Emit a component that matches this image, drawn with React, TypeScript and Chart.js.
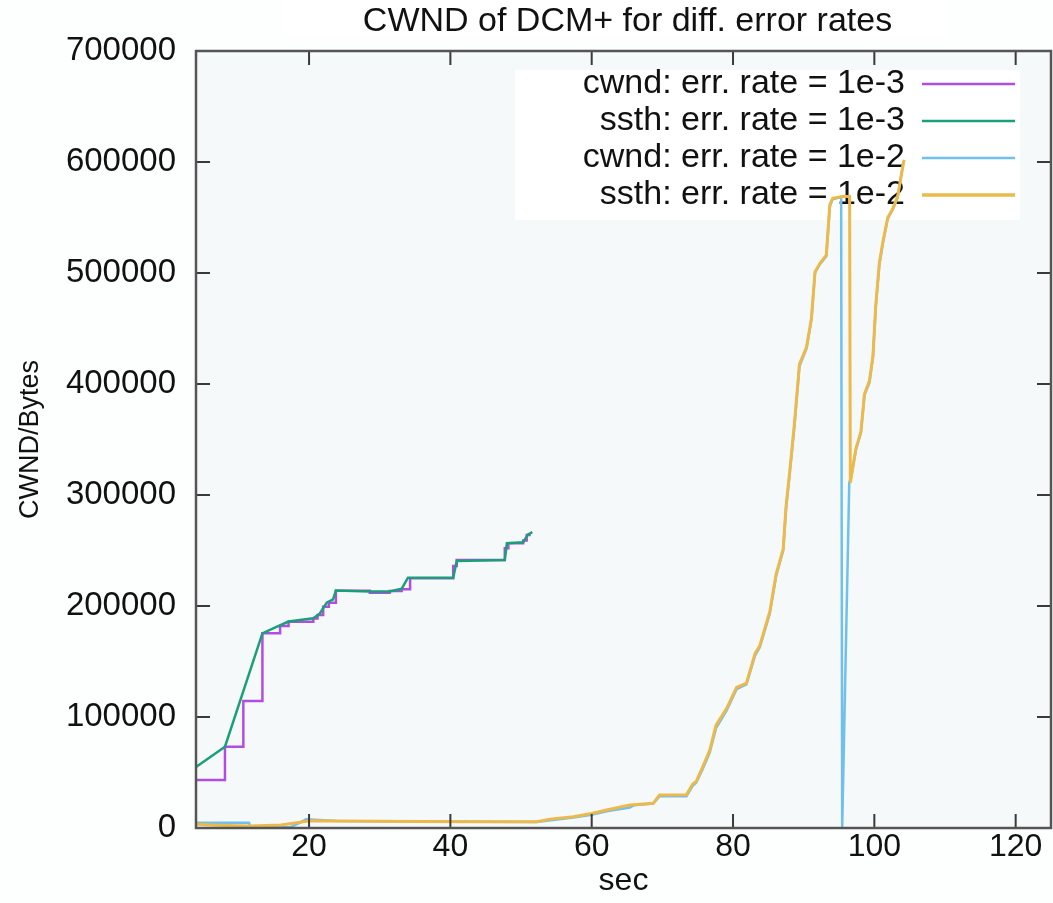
import React, { useEffect, useRef } from "react";
import { Chart, registerables } from "chart.js";

Chart.register(...registerables);

const FONT = "'Liberation Sans', Arial, Helvetica, sans-serif";

const TITLE = "CWND of DCM+ for diff. error rates";
const X_LABEL = "sec";
const Y_LABEL = "CWND/Bytes";
const X_TICKS = [20, 40, 60, 80, 100, 120];
const Y_TICKS = [0, 100000, 200000, 300000, 400000, 500000, 600000, 700000];

const SERIES_LABELS = [
  "cwnd: err. rate = 1e-3",
  "ssth: err. rate = 1e-3",
  "cwnd: err. rate = 1e-2",
  "ssth: err. rate = 1e-2",
];
const SERIES_COLORS = ["#b04ee2", "#1a9f78", "#6fc0ec", "#edb94a"];

// cwnd, err. rate 1e-3 (step function)
const cwnd3X = [4, 8.1, 10.7, 13.4, 15.9, 17.1, 20.6, 21.2, 22.0, 22.8, 23.8, 28.6, 31.4, 33.1, 34.3, 40.4, 40.9, 47.7, 48.2, 50.3, 50.8, 51.2];
const cwnd3Y = [43200, 73200, 114400, 175400, 182000, 185800, 188800, 192000, 199300, 203000, 213800, 212000, 213500, 215000, 224900, 236000, 241400, 252000, 256500, 259000, 264000, 265500];

// ssth, err. rate 1e-3
const ssth3X = [4, 8.1, 13.4, 15.0, 17.1, 20.6, 21.5, 22.5, 23.4, 23.8, 28.6, 31.4, 33.1, 34.0, 40.4, 40.9, 47.7, 48.0, 50.3, 51.0, 51.6];
const ssth3Y = [55000, 73200, 175400, 180000, 186000, 189000, 193000, 203000, 206000, 214000, 213000, 213000, 215500, 225500, 225500, 240500, 241500, 256500, 257500, 264500, 266500];

// cwnd, err. rate 1e-2
const cwnd2X = [4, 11.5, 11.7, 17.3, 18.8, 19.6, 23.9, 35, 45, 52.2, 54.5, 57.4, 60, 62.1, 65.4, 66, 68.7, 69.6, 73.4, 74.3, 74.8, 75.7, 76.7, 77.6, 79.1, 80.5, 81.9, 83.1, 83.8, 85.2, 86.1, 87.1, 87.5, 88.0, 88.7, 89.4, 90.4, 91.1, 91.6, 92.3, 93.2, 93.7, 94.1, 95.3, 95.45, 96.45, 96.7, 97.4, 98.1, 98.6, 99.3, 99.8, 100.2, 100.7, 101.2, 101.9, 102.6, 103.3, 104.1];
const cwnd2Y = [4800, 4800, 600, 600, 5000, 7800, 6300, 5800, 5600, 5400, 7200, 9500, 12000, 15000, 18500, 20500, 22000, 28500, 28500, 38000, 41000, 53000, 68000, 90000, 106000, 125000, 129500, 155000, 163000, 193000, 227000, 250000, 288000, 318000, 363000, 416000, 432000, 458000, 500000, 508000, 515000, 560000, 566500, 568500, 0, 311000, 316000, 341000, 356000, 390000, 401000, 424000, 469000, 507000, 527000, 549000, 557000, 568000, 600000];

// ssth, err. rate 1e-2
const ssth2X = [4, 7, 11.6, 16, 18.7, 20.1, 23.9, 35, 45, 52.2, 54.1, 57.4, 60, 62.1, 65.4, 68.7, 69.6, 73.4, 74.3, 74.8, 75.7, 76.7, 77.6, 79.1, 80.5, 81.9, 83.1, 83.8, 85.2, 86.1, 87.1, 87.5, 88.0, 88.7, 89.4, 90.4, 91.1, 91.6, 92.3, 93.2, 93.7, 94.1, 95.5, 96.5, 96.6, 97.4, 98.1, 98.6, 99.3, 99.8, 100.2, 100.7, 101.2, 101.9, 102.6, 103.3, 104.2];
const ssth2Y = [3300, 2500, 1800, 2800, 5100, 6600, 6300, 5800, 5600, 5700, 8000, 10200, 13000, 16200, 20700, 22200, 29700, 30000, 39700, 42000, 54800, 70000, 92700, 107800, 126700, 130500, 157000, 164500, 194800, 228800, 251500, 289300, 319600, 365000, 418000, 433000, 459500, 501000, 508700, 516000, 561600, 567300, 569000, 569000, 311000, 342000, 357000, 391000, 402800, 425000, 470800, 508700, 527600, 550000, 557800, 569000, 602000];

const pts = (xs: number[], ys: number[]) => xs.map((x, i) => ({ x, y: ys[i] }));

const gnuPlugin = {
  id: "gnuFrame",
  beforeDraw(chart: any) {
    const { ctx, chartArea: a, width, height } = chart;
    ctx.save();
    ctx.fillStyle = "#fdfefe";
    ctx.fillRect(0, 0, width, height);
    ctx.fillStyle = "#ffffff";
    ctx.fillRect(282, 0, 666, 38);
    ctx.fillStyle = "#f6f9fa";
    ctx.fillRect(a.left, a.top, a.right - a.left, a.bottom - a.top);
    // title, centred over the plot area
    ctx.fillStyle = "#111111";
    ctx.font = `34px ${FONT}`;
    ctx.textAlign = "center";
    ctx.textBaseline = "middle";
    ctx.fillText(TITLE, (a.left + a.right) / 2 + 4, 22);
    ctx.restore();
  },
  beforeDatasetsDraw(chart: any) {
    const { ctx } = chart;
    ctx.save();
    ctx.fillStyle = "#ffffff";
    ctx.fillRect(515, 70, 505, 150);
    const rows = [84, 121, 158, 195];
    ctx.font = `34px ${FONT}`;
    ctx.textAlign = "right";
    ctx.textBaseline = "middle";
    SERIES_LABELS.forEach((label, i) => {
      ctx.fillStyle = "#111111";
      ctx.fillText(label, 905, rows[i]);
      ctx.strokeStyle = SERIES_COLORS[i];
      ctx.lineWidth = i === 3 ? 3.5 : 2.5;
      ctx.beginPath();
      ctx.moveTo(922, rows[i]);
      ctx.lineTo(1015, rows[i]);
      ctx.stroke();
    });
    ctx.restore();
  },
  afterDatasetsDraw(chart: any) {
    const { ctx, chartArea: a, scales } = chart;
    ctx.save();
    ctx.strokeStyle = "#3a3a3a";
    ctx.lineWidth = 2;
    const tl = 14;
    ctx.beginPath();
    X_TICKS.forEach((v) => {
      const px = scales.x.getPixelForValue(v);
      ctx.moveTo(px, a.bottom);
      ctx.lineTo(px, a.bottom - tl);
      ctx.moveTo(px, a.top);
      ctx.lineTo(px, a.top + tl);
    });
    Y_TICKS.forEach((v) => {
      const py = scales.y.getPixelForValue(v);
      ctx.moveTo(a.left, py);
      ctx.lineTo(a.left + tl, py);
      ctx.moveTo(a.right, py);
      ctx.lineTo(a.right - tl, py);
    });
    ctx.stroke();
    ctx.strokeStyle = "#555555";
    ctx.lineWidth = 2.5;
    ctx.strokeRect(a.left, a.top, a.right - a.left, a.bottom - a.top);
    ctx.restore();
  },
};

export default function App() {
  const ref = useRef<HTMLCanvasElement | null>(null);

  useEffect(() => {
    if (!ref.current) return;
    const series = [
      { data: pts(cwnd3X, cwnd3Y), stepped: true, order: 4 },
      { data: pts(ssth3X, ssth3Y), stepped: false, order: 3 },
      { data: pts(cwnd2X, cwnd2Y), stepped: false, order: 2 },
      { data: pts(ssth2X, ssth2Y), stepped: false, order: 1 },
    ];
    const chart = new Chart(ref.current, {
      type: "line",
      data: {
        datasets: series.map((s, i) => ({
          label: SERIES_LABELS[i],
          data: s.data,
          borderColor: SERIES_COLORS[i],
          backgroundColor: SERIES_COLORS[i],
          borderWidth: i === 3 ? 3 : 2.5,
          pointRadius: 0,
          fill: false,
          tension: 0,
          stepped: s.stepped,
          order: s.order,
        })),
      },
      options: {
        animation: false,
        responsive: false,
        maintainAspectRatio: false,
        layout: { padding: { left: 0, right: 2, top: 51, bottom: 0 } },
        plugins: {
          legend: { display: false },
          tooltip: { enabled: false },
          title: { display: false },
        },
        scales: {
          x: {
            type: "linear",
            min: 4,
            max: 125,
            afterBuildTicks: (s: any) => {
              s.ticks = X_TICKS.map((v) => ({ value: v }));
            },
            afterFit: (s: any) => {
              s.height = 75;
            },
            grid: { display: false, drawTicks: false },
            border: { display: false },
            ticks: {
              color: "#111111",
              font: { family: FONT, size: 32, lineHeight: 1 },
              padding: 3,
              maxRotation: 0,
              autoSkip: false,
            },
            title: {
              display: true,
              text: X_LABEL,
              color: "#111111",
              font: { family: FONT, size: 32, lineHeight: 1.2 },
              padding: { top: 0, bottom: 3 },
            },
          },
          y: {
            type: "linear",
            min: 0,
            max: 700000,
            afterBuildTicks: (s: any) => {
              s.ticks = Y_TICKS.map((v) => ({ value: v }));
            },
            afterFit: (s: any) => {
              s.width = 196;
            },
            grid: { display: false, drawTicks: false },
            border: { display: false },
            ticks: {
              color: "#111111",
              font: { family: FONT, size: 33, lineHeight: 1 },
              padding: 20,
              callback: (v: any) => String(v),
            },
            title: {
              display: true,
              text: Y_LABEL,
              color: "#111111",
              font: { family: FONT, size: 27, lineHeight: 1.2 },
              padding: { top: 14, bottom: 0 },
            },
          },
        },
      },
      plugins: [gnuPlugin],
    } as any);
    return () => chart.destroy();
  }, []);

  return (
    <div style={{ position: "absolute", left: 0, top: 0, width: 1053, height: 903 }}>
      <canvas ref={ref} width={1053} height={903} style={{ width: 1053, height: 903, display: "block" }} />
    </div>
  );
}
